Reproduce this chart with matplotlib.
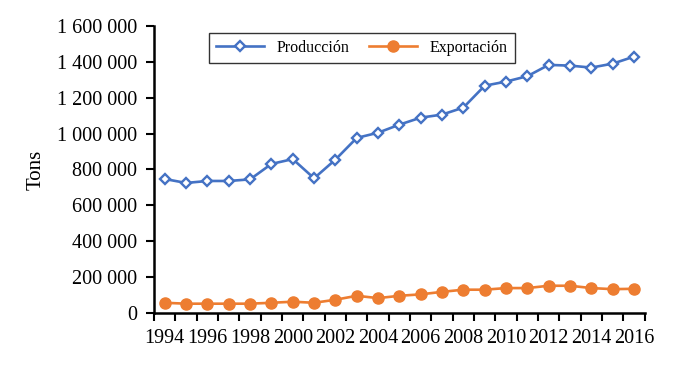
import matplotlib
matplotlib.use("Agg")
import matplotlib.pyplot as plt
import numpy as np

years = list(range(1994, 2017))
produccion = [747000, 725000, 736000, 736000, 745000, 831000, 858000, 751000, 855000,
              976000, 1005000, 1050000, 1089000, 1106000, 1145000, 1267000, 1290000,
              1320000, 1383000, 1379000, 1368000, 1390000, 1429000]
exportacion = [57000, 52000, 52000, 52000, 52000, 57000, 63000, 57000, 74000, 96000,
               83000, 96000, 104000, 118000, 130000, 130000, 139000, 139000, 152000,
               152000, 139000, 133000, 135000]
yticks = [0, 200000, 400000, 600000, 800000, 1000000, 1200000, 1400000, 1600000]
ytick_labels = ["0", "200 000", "400 000", "600 000", "800 000", "1 000 000",
                "1 200 000", "1 400 000", "1 600 000"]

plt.rcParams['font.family'] = ['Liberation Serif', 'DejaVu Serif']

fig = plt.figure(figsize=(6.88, 3.71), dpi=100)
ax = fig.add_axes([0.224, 0.1563, 0.713, 0.7737])

x = np.arange(len(years))
ax.plot(x, produccion, color='#4472C4', lw=1.9, marker='D', ms=5.5,
        mfc='white', mec='#4472C4', mew=1.7, label='Producción')
ax.plot(x, exportacion, color='#ED7D31', lw=1.9, marker='o', ms=8,
        mfc='#ED7D31', mec='#ED7D31', label='Exportación')

ax.set_xlim(-0.5, len(years) - 0.5)
ax.set_ylim(0, 1600000)
ax.set_yticks(yticks)
ax.set_yticklabels(ytick_labels, fontsize=14.5)

ax.set_xticks(np.arange(-0.5, len(years), 1.0))
ax.set_xticklabels([])
ax.set_xticks(x[::2], minor=True)
ax.set_xticklabels([str(y) for y in years[::2]], minor=True, fontsize=14.5)
ax.tick_params(axis='x', which='major', length=6, width=1.5, direction='out')
ax.tick_params(axis='x', which='minor', length=0, pad=11.5)
ax.tick_params(axis='y', length=6, width=1.5, direction='out', pad=6)

for s in ['top', 'right']:
    ax.spines[s].set_visible(False)
for s in ['left', 'bottom']:
    ax.spines[s].set_linewidth(1.8)
    ax.spines[s].set_color('black')

ax.set_ylabel('Tons', fontsize=15, labelpad=8)

leg = ax.legend(loc='upper center', bbox_to_anchor=(0.424, 1.004), ncol=2, fontsize=11.5,
                frameon=True, fancybox=False, edgecolor='black', handlelength=3,
                columnspacing=1.2, borderpad=0.45)
leg.get_frame().set_linewidth(1.0)

fig.savefig('out.png', dpi=100)
